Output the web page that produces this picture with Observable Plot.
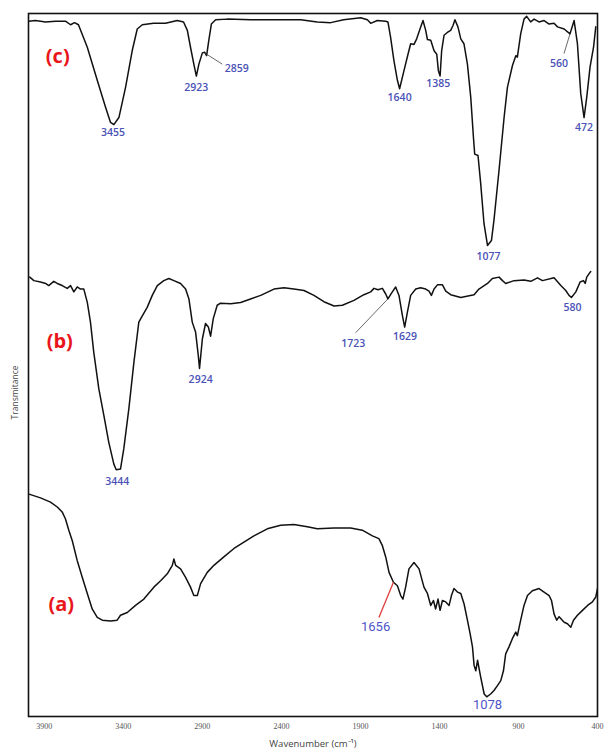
<!DOCTYPE html>
<html><head><meta charset="utf-8">
<script src="https://cdn.jsdelivr.net/npm/d3@7"></script>
<script src="https://cdn.jsdelivr.net/npm/@observablehq/plot@0.6"></script>
<style>body{margin:0;background:#fff;} svg{display:block}</style>
</head><body><div id="chart"></div>
<script>
// FTIR spectra: [wavenumber (cm-1), transmittance (a.u., stacked)]
const spectrumC = [[4000,98.9],[3956,99.0],[3892,98.8],[3829,98.9],[3766,98.9],[3734,98.4],[3709,98.7],[3684,98.4],[3628,95.2],[3565,90.5],[3513,86.7],[3481,84.5],[3460,84.2],[3428,85.2],[3386,89.5],[3344,94.7],[3312,97.8],[3280,98.4],[3209,98.6],[3133,98.6],[3059,99.0],[3019,98.8],[2995,97.6],[2975,95.2],[2954,92.8],[2938,91.1],[2922,92.8],[2900,94.4],[2886,94.5],[2873,94.0],[2859,96.2],[2843,98.5],[2816,99.1],[2742,99.2],[2595,99.1],[2405,99.1],[2278,99.1],[2173,98.8],[2088,98.7],[2006,99.1],[1898,99.4],[1856,99.1],[1835,98.6],[1793,99.0],[1740,98.9],[1726,98.8],[1709,96.6],[1688,93.3],[1666,90.5],[1652,89.3],[1624,91.9],[1599,94.2],[1582,95.7],[1561,95.6],[1544,96.4],[1523,97.8],[1504,99.0],[1487,97.6],[1476,96.3],[1455,96.2],[1434,94.7],[1417,94.2],[1407,91.9],[1396,91.1],[1386,94.7],[1371,96.9],[1350,97.3],[1329,97.6],[1314,98.3],[1302,99.1],[1283,98.1],[1265,96.4],[1245,95.7],[1223,92.8],[1202,88.1],[1185,82.4],[1177,80.0],[1156,79.8],[1139,75.8],[1118,70.1],[1096,67.0],[1071,67.7],[1055,70.6],[1023,77.7],[991,85.2],[970,89.5],[938,92.6],[917,94.0],[907,93.8],[886,97.1],[865,99.2],[848,99.6],[823,98.8],[801,99.2],[770,98.8],[738,99.0],[706,98.5],[675,98.6],[653,98.1],[611,97.8],[574,97.1],[548,99.0],[527,95.7],[506,88.6],[485,85.2],[468,88.1],[447,92.4],[425,95.2],[411,98.1]];

const spectrumB = [[3992,62.5],[3966,62.0],[3924,61.8],[3892,61.6],[3872,61.3],[3840,61.9],[3818,61.6],[3787,61.3],[3755,60.9],[3734,61.3],[3713,60.4],[3692,61.1],[3671,60.8],[3650,60.8],[3628,58.9],[3608,56.1],[3587,51.8],[3555,46.6],[3523,42.8],[3492,39.0],[3460,35.9],[3445,35.1],[3418,35.2],[3397,38.1],[3365,43.8],[3333,50.4],[3302,56.1],[3280,57.0],[3249,58.2],[3217,59.9],[3185,61.3],[3144,62.0],[3112,62.3],[3080,62.0],[3038,61.6],[3006,60.8],[2985,59.4],[2964,56.1],[2943,54.7],[2926,51.4],[2918,49.5],[2900,53.7],[2880,55.9],[2862,55.4],[2848,54.1],[2831,56.6],[2806,58.5],[2785,58.8],[2721,58.7],[2658,58.9],[2595,59.4],[2531,59.9],[2447,60.8],[2384,61.0],[2321,60.8],[2257,60.6],[2194,59.9],[2131,59.0],[2067,58.4],[2014,58.5],[1941,59.2],[1878,60.0],[1835,60.4],[1814,60.9],[1789,60.7],[1761,60.9],[1740,60.1],[1726,59.4],[1698,60.4],[1677,61.1],[1656,59.9],[1634,57.0],[1620,55.4],[1603,57.5],[1582,59.9],[1550,60.8],[1519,61.0],[1487,60.8],[1466,60.5],[1451,59.9],[1434,60.8],[1413,61.4],[1381,61.4],[1360,60.5],[1329,60.0],[1265,59.6],[1181,60.0],[1150,60.8],[1096,61.6],[1065,62.3],[1023,62.5],[1001,62.0],[981,61.6],[928,62.0],[865,62.1],[822,61.9],[780,62.4],[748,62.0],[675,62.4],[632,61.3],[601,60.6],[580,59.9],[565,59.6],[537,60.4],[510,61.8],[489,62.0],[478,61.6],[468,62.5],[453,63.0],[443,63.3]];

const spectrumA = [[3992,31.6],[3924,31.1],[3861,30.5],[3818,29.8],[3787,29.1],[3766,28.1],[3745,26.5],[3723,25.0],[3692,22.2],[3660,19.8],[3628,17.5],[3597,15.3],[3565,14.1],[3533,13.7],[3481,13.6],[3439,13.7],[3418,14.4],[3375,14.8],[3323,15.8],[3270,16.7],[3207,18.4],[3164,19.3],[3122,20.3],[3090,21.5],[3080,22.4],[3069,21.5],[3038,21.0],[3006,19.8],[2975,18.4],[2954,17.2],[2932,17.2],[2911,18.9],[2869,20.5],[2827,21.5],[2764,22.7],[2700,23.9],[2637,24.8],[2574,25.7],[2489,26.7],[2405,27.2],[2321,27.3],[2236,27.0],[2173,26.7],[2067,26.8],[1962,26.8],[1888,26.5],[1824,25.7],[1783,25.3],[1761,24.3],[1740,22.7],[1719,20.5],[1691,19.1],[1666,18.6],[1645,17.2],[1631,16.7],[1614,18.4],[1593,21.0],[1561,21.9],[1529,21.0],[1498,18.4],[1476,17.5],[1455,15.8],[1438,16.5],[1424,15.3],[1409,16.7],[1396,15.1],[1381,16.5],[1360,16.3],[1339,15.8],[1324,17.2],[1308,18.2],[1286,17.7],[1265,17.5],[1244,16.0],[1223,13.7],[1206,11.8],[1191,9.9],[1181,7.3],[1170,6.5],[1159,8.0],[1139,5.6],[1117,3.2],[1101,2.8],[1076,3.2],[1055,3.7],[1033,4.4],[1012,5.1],[995,6.5],[981,8.9],[960,9.9],[938,11.1],[917,12.0],[907,11.5],[886,13.7],[865,15.8],[843,17.2],[812,17.9],[770,18.2],[738,17.7],[706,17.2],[691,16.5],[675,14.6],[658,13.7],[643,14.2],[611,13.4],[590,13.2],[569,12.7],[552,13.7],[527,14.4],[495,15.1],[463,15.8],[432,16.3],[411,17.0],[400,18.2]];

// Peak labels (b, c)
const peakText = ["3455","2923","2859","1640","1385","1077","560","472","3444","2924","1723","1629","580"];
const peakWave = [3466,2938,2683,1652,1407,1090,643,485,3439,2911,1945,1618,558];
const peakT    = [83.0,89.5,92.2,88.0,90.0,65.4,92.8,83.7,33.4,47.9,53.0,54.0,58.2];
// Peak labels (a)
const peakTextA = ["1656","1078"];
const peakWaveA = [1804,1096];
const peakTA    = [12.7,1.7];
// Leader lines: [wave1, t1, wave2, t2]
const leaders = [[2880,94.3,2774,92.8],[574,97.1,612,94.3],[1726,59.4,1930,54.6]];
const leaderRed = [[1691,19.1,1783,14.1]];
// Panel labels
const panelText = ["(c)","(b)","(a)"];
const panelWave = [3815,3802,3793];
const panelT    = [93.8,53.3,15.9];
// Axis
const xTicks = [3900,3400,2900,2400,1900,1400,900,400];
const xTitle = "Wavenumber (cm\u207B\u00B9)";
const yTitle = "Transmitance";
const yTitleAt = {w: 4000, t: 46.1};

const rows = [
  ...spectrumC.map(([w,t]) => ({w,t,s:"c"})),
  ...spectrumB.map(([w,t]) => ({w,t,s:"b"})),
  ...spectrumA.map(([w,t]) => ({w,t,s:"a"}))
];
const peaks = peakText.map((text,i) => ({text, w: peakWave[i], t: peakT[i]}));
const peaksA = peakTextA.map((text,i) => ({text, w: peakWaveA[i], t: peakTA[i]}));
const panels = panelText.map((text,i) => ({text, w: panelWave[i], t: panelT[i]}));

const chart = Plot.plot({
  width: 608, height: 753,
  marginLeft: 28, marginRight: 11, marginTop: 13, marginBottom: 37,
  style: {fontFamily: "'Open Sans', sans-serif", background: "#fff", color: "#111"},
  x: {domain: [4000, 400], axis: null},
  y: {domain: [0, 100], axis: null},
  marks: [
    Plot.axisX({ticks: xTicks, tickSize: 0, tickPadding: 7, tickFormat: d => String(d), label: null, fontSize: 8, fill: "#555", fontFamily: "'Liberation Serif', serif"}),
    Plot.line(rows, {x: "w", y: "t", z: "s", stroke: "#111", strokeWidth: 1.5, clip: true}),
    Plot.link(leaders, {x1: d => d[0], y1: d => d[1], x2: d => d[2], y2: d => d[3], stroke: "#444", strokeWidth: 0.8}),
    Plot.link(leaderRed, {x1: d => d[0], y1: d => d[1], x2: d => d[2], y2: d => d[3], stroke: "#e03a3a", strokeWidth: 1.3}),
    Plot.text(peaks, {x: "w", y: "t", text: "text", fill: "#4a52b6", fontSize: 10.5, fontWeight: 600}),
    Plot.text(peaksA, {x: "w", y: "t", text: "text", fill: "#4d55c8", fontSize: 13, fontFamily: "Roboto, sans-serif"}),
    Plot.text(panels, {x: "w", y: "t", text: "text", fill: "#e8161b", fontSize: 20, fontWeight: "bold"}),
    Plot.text([yTitleAt], {x: "w", y: "t", text: () => yTitle, dx: -13, rotate: -90, fontSize: 8.5, fill: "#444"}),
    Plot.text([xTitle], {frameAnchor: "bottom", dy: 30, fontSize: 9.5, fill: "#444"}),
    Plot.frame({stroke: "#111", strokeWidth: 1.6})
  ]
});
document.getElementById("chart").appendChild(chart);
</script>
</body></html>
